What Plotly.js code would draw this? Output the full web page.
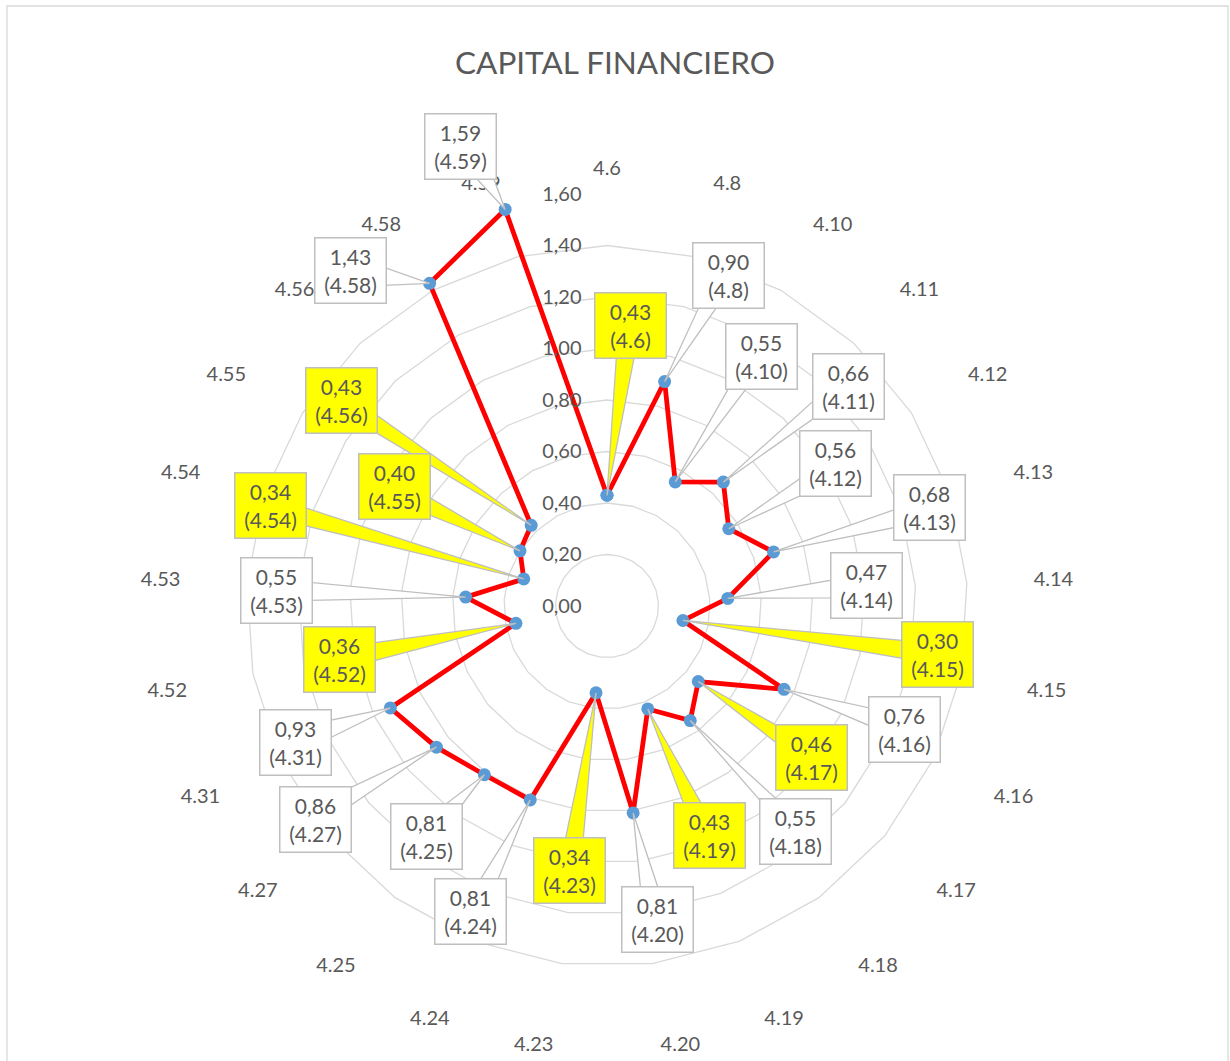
<!DOCTYPE html>
<html>
<head>
<meta charset="utf-8">
<script src="https://cdn.plot.ly/plotly-3.0.1.min.js"></script>
<style>
html,body{margin:0;padding:0;background:#fff;}
#chart{width:1230px;height:1061px;}
</style>
</head>
<body>
<div id="chart"></div>
<script>
// ---- data ----
const categories = ['4.6','4.8','4.10','4.11','4.12','4.13','4.14','4.15','4.16','4.17','4.18','4.19','4.20','4.23','4.24','4.25','4.27','4.31','4.52','4.53','4.54','4.55','4.56','4.58','4.59'];
const values = [0.43,0.90,0.55,0.66,0.56,0.68,0.47,0.30,0.76,0.46,0.55,0.43,0.81,0.34,0.81,0.81,0.86,0.93,0.36,0.55,0.34,0.40,0.43,1.43,1.59];
const radialTicks = [0,0.2,0.4,0.6,0.8,1.0,1.2,1.4,1.6];
const chartTitle = 'CAPITAL FINANCIERO';

// ---- layout of the data labels (pixel offsets of label box centre from its point) ----
const labelOffsetX = [23,64,86,125,107,156,139,255,120,113,105,62,24,-27,-60,-58,-121,-95,-176,-189,-253,-126,-190,-79,-45];
const labelOffsetY = [-170,-106,-125,-96,-65,-44,-13,34,40,76,111,127,107,178,112,62,72,35,36,-7,-73,-64,-125,-13,-63];
const highlightBelow = 0.465;   // labels for values under this get a yellow box

const W = 1230, H = 1061;
const CX = 607, CY = 606, R = 412;
const BOX_W = 70, BOX_H = 64, BORDER = 1.5;
const GREY = '#595959';
const FONT = 'Lato, "Open Sans", sans-serif';

const fmt = v => v.toFixed(2).replace('.', ',');

const trace = {
  type: 'scatterpolar',
  r: values.concat([values[0]]),
  theta: categories.concat([categories[0]]),
  mode: 'lines+markers',
  line: {color: '#FF0000', width: 4.8},
  marker: {color: '#5B9BD5', size: 13},
  hoverinfo: 'skip',
  showlegend: false,
  cliponaxis: false
};

const layout = {
  width: W, height: H,
  margin: {l: 0, r: 0, t: 0, b: 0, pad: 0},
  paper_bgcolor: '#ffffff',
  separators: ',.',
  font: {family: FONT, color: GREY, size: 20},
  title: {
    text: chartTitle,
    font: {family: FONT, size: 31.5, color: GREY},
    x: 0.5, xref: 'paper', xanchor: 'center',
    y: 1 - 63 / H, yref: 'container', yanchor: 'middle'
  },
  showlegend: false,
  polar: {
    domain: {x: [(CX - R) / W, (CX + R) / W], y: [1 - (CY + R) / H, 1 - (CY - R) / H]},
    bgcolor: '#ffffff',
    gridshape: 'linear',
    angularaxis: {
      type: 'category',
      categoryorder: 'array',
      categoryarray: categories,
      direction: 'clockwise',
      rotation: 90,
      showgrid: false,
      showline: false,
      ticks: 'outside',
      ticklen: 11,
      tickcolor: 'rgba(0,0,0,0)',
      tickfont: {family: FONT, size: 20, color: GREY}
    },
    radialaxis: {
      range: [0, 1.6],
      tickmode: 'array',
      tickvals: radialTicks,
      tickformat: '.2f',
      angle: 90,
      tickangle: 90,
      side: 'counterclockwise',
      showline: false,
      ticks: 'outside',
      ticklen: 18,
      tickcolor: 'rgba(0,0,0,0)',
      gridcolor: '#D9D9D9',
      gridwidth: 1.3,
      tickfont: {family: FONT, size: 20, color: GREY}
    }
  }
};

function clamp(v, a, b) { return Math.max(a, Math.min(b, v)); }

Plotly.newPlot('chart', [trace], layout, {displayModeBar: false, staticPlot: true}).then(gd => {
  const sp = gd._fullLayout.polar && gd._fullLayout.polar._subplot;
  const cx = sp && isFinite(sp.cx) ? sp.cx : CX;
  const cy = sp && isFinite(sp.cy) ? sp.cy : CY;
  const rad = sp && isFinite(sp.radius) ? sp.radius : R;
  const X = px => px / W;
  const Y = py => 1 - py / H;
  const n = categories.length;
  const annotations = [];
  const shapes = [];

  // outer chart frame
  shapes.push({type: 'rect', xref: 'paper', yref: 'paper', x0: X(7), x1: X(1228), y0: Y(1075), y1: Y(6),
    line: {color: '#D9D9D9', width: 1.3}, fillcolor: 'rgba(0,0,0,0)', layer: 'below'});

  values.forEach((v, i) => {
    const ang = i * 2 * Math.PI / n;
    const rp = v / 1.6 * rad;
    const px = cx + rp * Math.sin(ang);
    const py = cy - rp * Math.cos(ang);
    const bx = px + labelOffsetX[i];
    const by = py + labelOffsetY[i];
    const fill = v < highlightBelow ? '#FFFF00' : '#FFFFFF';
    const w = BOX_W + 2 * BORDER, h = BOX_H + 2 * BORDER;

    // callout wedge from point to box edge
    const dx = px - bx, dy = py - by;
    const tx = dx !== 0 ? (w / 2) / Math.abs(dx) : Infinity;
    const ty = dy !== 0 ? (h / 2) / Math.abs(dy) : Infinity;
    const half = 9;
    let e1, e2;
    if (tx < ty) {
      const ex = bx + Math.sign(dx) * (w / 2 - 3);
      const iy = clamp(by + dy * tx, by - h / 2 + half + 2, by + h / 2 - half - 2);
      e1 = [ex, iy - half]; e2 = [ex, iy + half];
    } else {
      const ey = by + Math.sign(dy) * (h / 2 - 3);
      const ix = clamp(bx + dx * ty, bx - w / 2 + half + 2, bx + w / 2 - half - 2);
      e1 = [ix - half, ey]; e2 = [ix + half, ey];
    }
    shapes.push({
      type: 'path', xref: 'paper', yref: 'paper', layer: 'above',
      path: `M ${X(px)} ${Y(py)} L ${X(e1[0])} ${Y(e1[1])} L ${X(e2[0])} ${Y(e2[1])} Z`,
      fillcolor: fill, line: {color: '#BFBFBF', width: 1.3}
    });

    annotations.push({
      xref: 'paper', yref: 'paper', x: X(bx), y: Y(by),
      xanchor: 'center', yanchor: 'middle', showarrow: false,
      text: fmt(v) + '<br>(' + categories[i] + ')',
      font: {family: FONT, size: 21, color: GREY},
      bgcolor: fill, bordercolor: '#BFBFBF', borderwidth: BORDER, borderpad: 0,
      width: BOX_W, height: BOX_H, align: 'center', valign: 'middle'
    });
  });

  return Plotly.relayout(gd, {shapes: shapes, annotations: annotations});
});
</script>
</body>
</html>
